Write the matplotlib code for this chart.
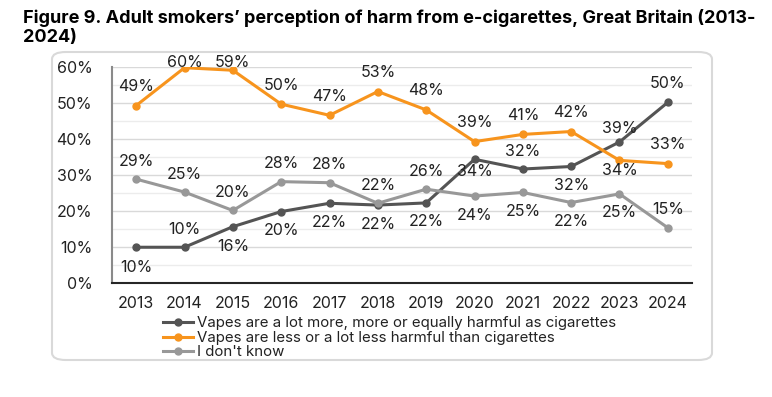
import matplotlib
matplotlib.use("Agg")
import matplotlib.pyplot as plt
from matplotlib.patches import FancyBboxPatch
from matplotlib.ticker import MultipleLocator, PercentFormatter

years = ["2013", "2014", "2015", "2016", "2017", "2018", "2019", "2020", "2021", "2022", "2023", "2024"]
more_harmful = [10.0, 10.0, 15.7, 19.9, 22.2, 21.7, 22.3, 34.4, 31.7, 32.4, 39.2, 50.2]
less_harmful = [49.3, 59.8, 59.1, 49.7, 46.6, 53.2, 48.1, 39.3, 41.3, 42.1, 34.1, 33.2]
dont_know = [28.9, 25.3, 20.2, 28.2, 27.9, 22.2, 26.1, 24.2, 25.2, 22.4, 24.8, 15.4]

series_names = [
    "Vapes are a lot more, more or equally harmful as cigarettes",
    "Vapes are less or a lot less harmful than cigarettes",
    "I don't know",
]

# label vertical offsets in pixels (style only)
off_more = [-20, 18, -20, -19, -19, -19, -19, -12, 18, -19, 13, 19]
off_less = [19, 19, 19, 19, 19, 19, 19, 19, 19, 19, -10, 19]
off_dk = [18, 18, 18, 18, 18, 18, 18, -19, -19, -19, -19, 18]

colors = ["#545454", "#F7941D", "#989898"]
FONT = "Inter"

W, H = 772, 397
fig = plt.figure(figsize=(W / 100, H / 100), dpi=100)

# rounded frame
box = FancyBboxPatch((52 / W, 1 - 360 / H), (712 - 52) / W, (360 - 52) / H,
                     boxstyle="round,pad=0,rounding_size=0.018",
                     transform=fig.transFigure, facecolor="white",
                     edgecolor="#d9d9d9", linewidth=1.5, zorder=-5)
fig.patches.append(box)

fig.text(23 / W, 1 - 9 / H,
         "Figure 9. Adult smokers\u2019 perception of harm from e-cigarettes, Great Britain (2013-\n2024)",
         fontsize=13, fontweight="bold", family=FONT, va="top", ha="left",
         linespacing=1.15, color="#000000")

ax = fig.add_axes([112 / W, 1 - 283.3 / H, (692 - 112) / W, (283.3 - 67) / H])
ax.set_facecolor("none")
x = list(range(len(years)))
ax.set_xlim(-0.5, len(years) - 0.5)
ax.set_ylim(0, 60)
ax.yaxis.set_major_locator(MultipleLocator(10))
ax.yaxis.set_minor_locator(MultipleLocator(5))
ax.yaxis.set_major_formatter(PercentFormatter(decimals=0))
ax.grid(axis="y", which="major", color="#d9d9d9", linewidth=1.0, zorder=0)
ax.grid(axis="y", which="minor", color="#ececec", linewidth=1.0, zorder=0)
ax.set_axisbelow(True)
ax.set_xticks(x)
ax.set_xticklabels(years)
ax.tick_params(axis="both", which="both", length=0)
ax.tick_params(axis="y", pad=14, labelsize=11.5, labelcolor="#222222")
ax.tick_params(axis="x", pad=9, labelsize=11.5, labelcolor="#222222")
for lab in ax.get_xticklabels() + ax.get_yticklabels():
    lab.set_family(FONT)
for s in ["top", "right"]:
    ax.spines[s].set_visible(False)
ax.spines["left"].set_color("#8a8a8a")
ax.spines["left"].set_linewidth(1.5)
ax.spines["bottom"].set_color("#262626")
ax.spines["bottom"].set_linewidth(1.5)

px_per_unit = (283.3 - 67) / 60.0
all_series = [(more_harmful, off_more), (less_harmful, off_less), (dont_know, off_dk)]
for (vals, offs), c, name in zip(all_series, colors, series_names):
    ax.plot(x, vals, color=c, linewidth=2.2, marker="o", markersize=5,
            label=name, zorder=3, solid_joinstyle="round")
    for xi, v, o in zip(x, vals, offs):
        yl = v + o / px_per_unit
        yl = min(yl, 61.2)
        ax.text(xi, yl, f"{round(v):d}%", ha="center", va="center",
                fontsize=11.5, family=FONT, color="#222222", zorder=4,
                clip_on=False)

handles, labels = ax.get_legend_handles_labels()
leg = fig.legend(handles, labels, loc="upper left",
                 bbox_to_anchor=(163 / W, 1 - 316 / H), frameon=False,
                 prop={"family": FONT, "size": 10.8}, handlelength=2.0,
                 handletextpad=0.25, labelspacing=0.05, borderaxespad=0,
                 borderpad=0)
for t in leg.get_texts():
    t.set_color("#222222")

fig.savefig("out.png", dpi=100)
